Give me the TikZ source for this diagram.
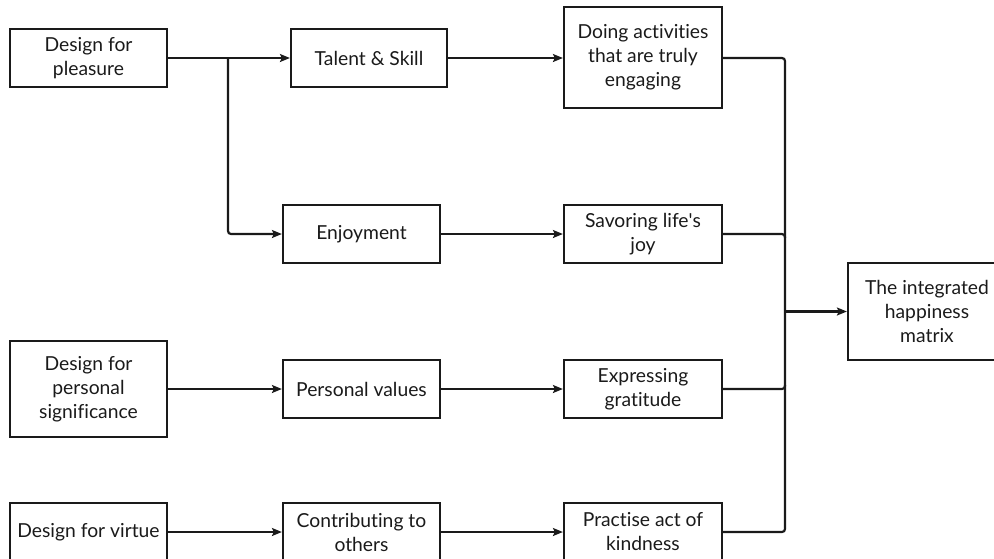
\documentclass[tikz,border=0pt]{standalone}
\usepackage{fontspec}
\setmainfont[Ligatures={NoCommon}]{Lato}
\usetikzlibrary{arrows.meta}
\definecolor{ink}{HTML}{1A1A1A}
\tikzset{
  box/.style={draw=ink, line width=2.2pt, rectangle, align=center, inner sep=2pt,
    font=\fontsize{19.3}{24}\selectfont, text=ink, anchor=center},
  conn/.style={draw=ink, line width=2.2pt, rounded corners=3pt},
  arr/.style={conn, -{Stealth[length=10pt,width=8pt,inset=2pt]}}
}
\begin{document}
\begin{tikzpicture}[x=1pt,y=-1pt]
\useasboundingbox (0,0) rectangle (994,558);
\node[box, minimum width=157pt, minimum height=58pt] (dp) at (88.5,58) {Design for\\pleasure};
\node[box, minimum width=156pt, minimum height=58pt] (ts) at (369,58) {Talent \& Skill};
\node[box, minimum width=157pt, minimum height=58pt] (en) at (361.5,234) {Enjoyment};
\node[box, minimum width=158pt, minimum height=101pt] (doing) at (643,57.5) {Doing activities\\that are truly\\engaging};
\node[box, minimum width=158pt, minimum height=58pt] (sav) at (643,234) {Savoring life\textquotesingle s\\joy};
\node[box, minimum width=157pt, minimum height=96pt] (psig) at (88.5,389) {Design for\\personal\\significance};
\node[box, minimum width=157pt, minimum height=58pt] (pv) at (361.5,389) {Personal values};
\node[box, minimum width=158pt, minimum height=58pt] (exp) at (643,389) {Expressing\\gratitude};
\node[box, minimum width=157pt, minimum height=58pt] (dv) at (88.5,532) {Design for virtue};
\node[box, minimum width=157pt, minimum height=58pt] (con) at (361.5,532) {Contributing to\\others};
\node[box, minimum width=158pt, minimum height=58pt] (prac) at (643,532) {Practise act of\\kindness};
\node[box, minimum width=158pt, minimum height=97pt] (ihm) at (927,311.5) {The integrated\\happiness\\matrix};

\coordinate (split) at (228,58);
\coordinate (merge) at (785,311.5);

\draw[arr] (dp.east |- 0,58) -- (ts.west |- 0,58);
\draw[arr] (split) -- (split |- en.west) -- (en.west);
\draw[arr] (ts.east) -- (doing.west |- ts.east);
\draw[arr] (en.east) -- (sav.west);
\draw[arr] (psig.east) -- (pv.west);
\draw[arr] (pv.east) -- (exp.west);
\draw[arr] (dv.east) -- (con.west);
\draw[arr] (con.east) -- (prac.west);

\draw[conn] (doing.east |- 0,58) -- (merge |- 0,58) -- (merge |- prac.east) -- (prac.east);
\draw[conn] (sav.east) -- (merge |- sav.east) -- ++(0,4);
\draw[conn] (exp.east) -- (merge |- exp.east) -- ++(0,-4);
\draw[arr] (merge) -- (ihm.west);
\end{tikzpicture}
\end{document}
